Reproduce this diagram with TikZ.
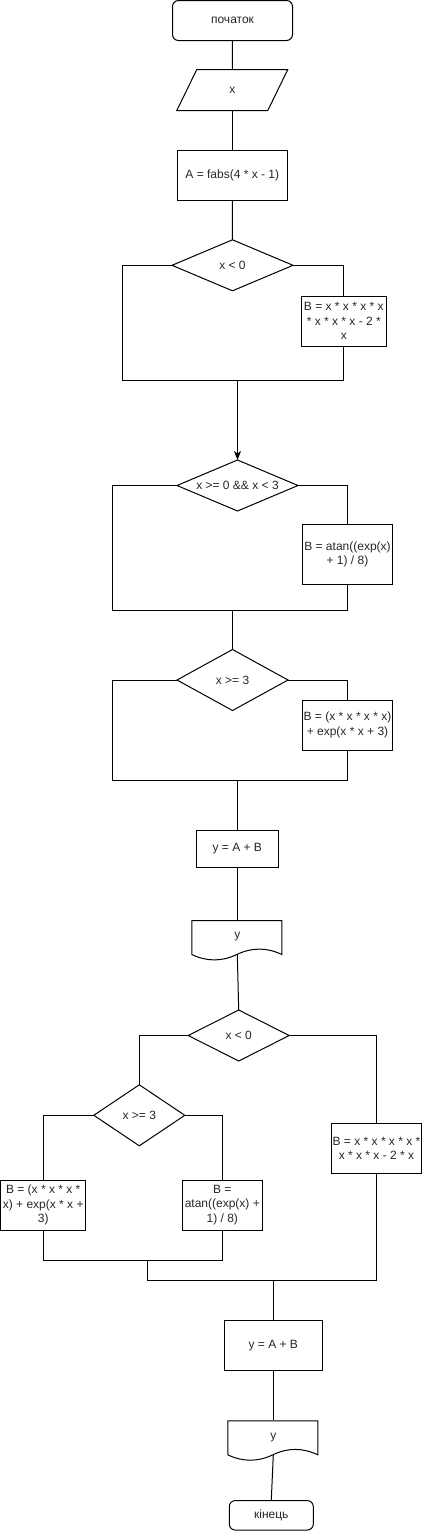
\documentclass[tikz,border=0pt]{standalone}
\usepackage{fontspec}
\setmainfont{Liberation Sans}
\usetikzlibrary{arrows.meta}
\definecolor{txt}{HTML}{262626}
\begin{document}
\begin{tikzpicture}[x=1pt,y=-1pt,line width=1pt,
  every node/.style={font=\fontsize{12}{14.5}\selectfont,text=txt,inner sep=0pt,align=center},
  box/.style 2 args={draw,rectangle,minimum width=#1,minimum height=#2},
  frame/.style 2 args={rectangle,minimum width=#1,minimum height=#2},
  term/.style 2 args={draw,rectangle,rounded corners=6pt,minimum width=#1,minimum height=#2},
  arr/.style={-{Stealth[length=9pt,width=7pt,inset=2.5pt]}}]
\useasboundingbox (0,0) rectangle (422,1531);

% nodes
\node[term={120pt}{40pt}] (start) at (232.5,20.5) {початок};
\node[frame={90pt}{40pt}] (inx) at (232.3,90) {x};
\node[box={110pt}{50pt}] (boxA) at (232.3,175) {A = fabs(4 * x - 1)};
\node[frame={120pt}{50pt}] (d1) at (232.5,265.3) {x < 0};
\node[box={85pt}{50pt}] (b1) at (343.8,321) {B = x * x * x * x\\* x * x * x - 2 *\\x};
\node[frame={120pt}{50pt}] (d2) at (237.5,485.5) {x >= 0 \&\& x < 3};
\node[box={90pt}{60pt}] (b2) at (347.5,554.3) {B = atan((exp(x)\\+ 1) / 8)};
\node[frame={110pt}{60pt}] (d3) at (232.5,680) {x >= 3};
\node[box={90pt}{50pt}] (b3) at (347.5,725) {B = (x * x * x * x)\\+ exp(x * x + 3)};
\node[box={82pt}{37pt}] (y1) at (237.3,848.8) {y = A + B};
\node[frame={90pt}{34pt}] (doc1) at (237.3,937) {y};
\node[frame={100pt}{50pt}] (d4) at (238.7,1035.5) {x < 0};
\node[frame={90pt}{60pt}] (d5) at (139.3,1115.3) {x >= 3};
\node[box={85pt}{50pt}] (b5l) at (43.2,1205) {B = (x * x * x *\\x) + exp(x * x +\\3)};
\node[box={80pt}{50pt}] (b5r) at (222.3,1205) {B =\\atan((exp(x) +\\1) / 8)};
\node[box={90pt}{50pt}] (b4) at (376.5,1148.3) {B = x * x * x * x *\\x * x * x - 2 * x};
\node[box={98pt}{50pt}] (y2) at (273.3,1345.3) {y = A + B};
\node[frame={90pt}{34pt}] (doc2) at (273.3,1437.3) {y};
\node[term={84pt}{29.5pt}] (end) at (271.3,1515.3) {кінець};

% shape outlines
\draw ([xshift=10pt]inx.north west) -- ([xshift=10pt]inx.north east)
  -- ([xshift=-10pt]inx.south east) -- ([xshift=-10pt]inx.south west) -- cycle;
\foreach \d in {d1,d2,d3,d4,d5}
  \draw (\d.north) -- (\d.east) -- (\d.south) -- (\d.west) -- cycle;
\foreach \d in {doc1,doc2}{
  \begin{scope}[shift={(\d.south west)}]
    \draw (0,0) -- (0,-34) -- (90,-34) -- (90,0)
      .. controls (75,-7.2) and (60,-7.2) .. (45,0)
      .. controls (30,7.2) and (15,7.2) .. (0,0) -- cycle;
  \end{scope}}

% junction coordinates
\coordinate (c1l) at (122.3,380);
\coordinate (c1m) at (237.5,380);
\coordinate (c2l) at (112.3,610);
\coordinate (c2m) at (232.5,610);
\coordinate (c3l) at (112.3,780);
\coordinate (c3m) at (237.3,780);
\coordinate (c5m) at (147.7,1260);
\coordinate (c4m) at (273.3,1280);

% connectors
\draw (start.south) -- (inx.north);
\draw (inx.south) -- (boxA.north);
\draw (boxA.south) -- (d1.north);
\draw (d1.west) -| (c1l) -- (c1m);
\draw (d1.east) -| (b1.north);
\draw (b1.south) |- (c1m);
\draw[arr] (c1m) -- (d2.north);
\draw (d2.west) -| (c2l) -- (c2m);
\draw (d2.east) -| (b2.north);
\draw (b2.south) |- (c2m);
\draw (c2m) -- (d3.north);
\draw (d3.west) -| (c3l) -- (c3m);
\draw (d3.east) -| (b3.north);
\draw (b3.south) |- (c3m);
\draw (c3m) -- (y1.north);
\draw (y1.south) -- (doc1.north);
\draw (doc1.south) -- (d4.north);
\draw (d4.west) -| (d5.north);
\draw (d4.east) -| (b4.north);
\draw (d5.west) -| (b5l.north);
\draw (d5.east) -| (b5r.north);
\draw (b5l.south) |- (c5m);
\draw (b5r.south) |- (c5m);
\draw (c5m) |- (c4m);
\draw (b4.south) |- (c4m);
\draw (c4m) -- (y2.north);
\draw (y2.south) -- (doc2.north);
\draw (doc2.south) -- (end.north);
\end{tikzpicture}
\end{document}
